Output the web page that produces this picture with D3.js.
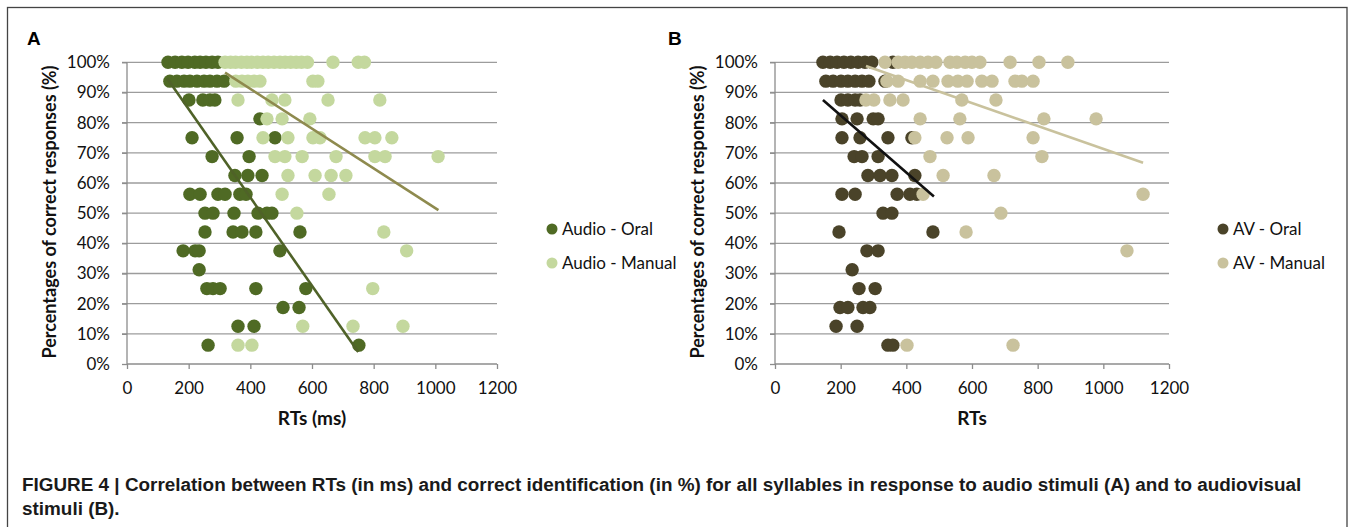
<!DOCTYPE html>
<html>
<head>
<meta charset="utf-8">
<script src="https://cdn.jsdelivr.net/npm/d3@7"></script>
<style>
  body { margin: 0; background: #fff; }
  svg { display: block; }
</style>
</head>
<body>
<svg id="fig" width="1349" height="527"></svg>
<script>
// y levels are sixteenths (100, 93.75, 87.5 ...), x is RT in ms
var audioOral = [
  [133,100],[156,100],[178,100],[198,100],[220,100],[237,100],[256,100],[276,100],[295,100],
  [139,93.75],[162,93.75],[185,93.75],[204,93.75],[227,93.75],[250,93.75],[269,93.75],[292,93.75],[315,93.75],
  [201,87.5],[246,87.5],[269,87.5],[285,87.5],
  [431,81.25],
  [211,75],[357,75],[480,75],
  [276,68.75],[396,68.75],
  [350,62.5],[392,62.5],[438,62.5],
  [204,56.25],[237,56.25],[295,56.25],[318,56.25],[366,56.25],[386,56.25],
  [253,50],[279,50],[347,50],[425,50],[454,50],[470,50],
  [253,43.75],[344,43.75],[373,43.75],[418,43.75],[561,43.75],
  [182,37.5],[221,37.5],[234,37.5],[496,37.5],
  [234,31.25],
  [259,25],[279,25],[302,25],[418,25],[580,25],
  [506,18.75],[558,18.75],
  [360,12.5],[412,12.5],
  [263,6.25],[752,6.25]
];
var audioManual = [
  [318,100],[336,100],[352,100],[371,100],[389,100],[404,100],[423,100],[441,100],[458,100],[477,100],
  [496,100],[513,100],[531,100],[549,100],[566,100],[585,100],[668,100],[750,100],[770,100],
  [353,93.75],[373,93.75],[392,93.75],[412,93.75],[431,93.75],[603,93.75],[619,93.75],
  [360,87.5],[470,87.5],[512,87.5],[652,87.5],[820,87.5],
  [454,81.25],[503,81.25],[593,81.25],
  [441,75],[522,75],[603,75],[626,75],[772,75],[804,75],[859,75],
  [480,68.75],[512,68.75],[568,68.75],[678,68.75],[804,68.75],[837,68.75],[1009,68.75],
  [522,62.5],[610,62.5],[662,62.5],[710,62.5],
  [503,56.25],[655,56.25],
  [551,50],
  [833,43.75],
  [907,37.5],
  [797,25],
  [570,12.5],[733,12.5],[895,12.5],
  [360,6.25],[405,6.25]
];
var avOral = [
  [146,100],[168,100],[189,100],[210,100],[231,100],[253,100],[274,100],[295,100],[359,100],
  [155,93.75],[177,93.75],[201,93.75],[222,93.75],[244,93.75],[265,93.75],[286,93.75],[335,93.75],
  [201,87.5],[222,87.5],[244,87.5],[259,87.5],
  [204,81.25],[250,81.25],[299,81.25],[314,81.25],
  [204,75],[259,75],[344,75],[417,75],
  [241,68.75],[265,68.75],[314,68.75],
  [283,62.5],[320,62.5],[356,62.5],[426,62.5],
  [204,56.25],[244,56.25],[372,56.25],[411,56.25],[432,56.25],
  [329,50],[356,50],
  [195,43.75],[481,43.75],
  [280,37.5],[314,37.5],
  [235,31.25],
  [256,25],[305,25],
  [198,18.75],[222,18.75],[268,18.75],[289,18.75],
  [186,12.5],[250,12.5],
  [344,6.25],[359,6.25]
];
var avManual = [
  [335,100],[375,100],[396,100],[417,100],[442,100],[466,100],[490,100],[533,100],[554,100],[579,100],
  [600,100],[624,100],[716,100],[804,100],[892,100],
  [341,93.75],[375,93.75],[442,93.75],[481,93.75],[527,93.75],[557,93.75],[585,93.75],[630,93.75],
  [661,93.75],[731,93.75],[752,93.75],[786,93.75],
  [277,87.5],[301,87.5],[350,87.5],[390,87.5],[569,87.5],[673,87.5],
  [442,81.25],[563,81.25],[819,81.25],[978,81.25],
  [426,75],[524,75],[588,75],[786,75],
  [472,68.75],[813,68.75],
  [512,62.5],[667,62.5],
  [451,56.25],[1121,56.25],
  [688,50],
  [582,43.75],
  [1072,37.5],
  [402,6.25],[725,6.25]
];
// linear trend lines (end points)
var trendAudioOral = [[130,94.7],[750,4]];
var trendAudioManual = [[318,96.6],[1010,51]];
var trendAvOral = [[146,87.5],[484,55.5]];
var trendAvManual = [[277,98.8],[1121,66.7]];

var xTicks = [0,200,400,600,800,1000,1200];
var yTicks = [0,10,20,30,40,50,60,70,80,90,100];

var svg = d3.select("#fig");
var chartFont = "Lato, 'Open Sans', sans-serif";

// outer frame
svg.append("rect")
  .attr("x", 7.5).attr("y", 7.5)
  .attr("width", 1339.5).attr("height", 540)
  .attr("fill", "none").attr("stroke", "#444").attr("stroke-width", 1.3);

var panels = [
  {label: "A", left: 127, right: 497, xTitle: "RTs (ms)", labelX: 27,
   series: [
     {name: "Audio - Oral", data: audioOral, color: "#4f6a24"},
     {name: "Audio - Manual", data: audioManual, color: "#c4d89e"}
   ],
   trends: [
     {data: trendAudioOral, color: "#4f6228"},
     {data: trendAudioManual, color: "#8e8a4e"}
   ],
   legendX: 552},
  {label: "B", left: 775, right: 1169, xTitle: "RTs", labelX: 668,
   series: [
     {name: "AV - Oral", data: avOral, color: "#4a4329"},
     {name: "AV - Manual", data: avManual, color: "#c9c29d"}
   ],
   trends: [
     {data: trendAvOral, color: "#111"},
     {data: trendAvManual, color: "#c9c29d"}
   ],
   legendX: 1223}
];

var plotTop = 62.3, plotBottom = 364;

panels.forEach(function(p) {
  var x = d3.scaleLinear().domain([0, 1200]).range([p.left, p.right]);
  var y = d3.scaleLinear().domain([0, 100]).range([plotBottom, plotTop]);
  var g = svg.append("g");

  // gridlines
  g.selectAll(".grid").data(yTicks.slice(1)).enter().append("line")
    .attr("x1", p.left - 5).attr("x2", p.right)
    .attr("y1", d => y(d)).attr("y2", d => y(d))
    .attr("stroke", "#9c9c9c").attr("stroke-width", 1.3);

  // y axis
  var yAxis = d3.axisLeft(y).tickValues(yTicks).tickFormat(d => d + "%").tickSize(5).tickPadding(12);
  var ga = g.append("g").attr("transform", "translate(" + p.left + ",0)").call(yAxis);
  // x axis
  var xAxis = d3.axisBottom(x).tickValues(xTicks).tickFormat(d3.format("d")).tickSize(5).tickPadding(13);
  var gx = g.append("g").attr("transform", "translate(0," + plotBottom + ")").call(xAxis);
  [ga, gx].forEach(function(a) {
    a.select(".domain").attr("stroke", "#8c8c8c").attr("stroke-width", 1.3);
    a.selectAll(".tick line").attr("stroke", "#8c8c8c").attr("stroke-width", 1.3);
    a.selectAll(".tick text").attr("font-family", chartFont).attr("font-size", 17).attr("fill", "#111");
  });
  ga.select(".domain").attr("d", "M0," + plotBottom + "V" + plotTop);
  gx.select(".domain").attr("d", "M" + p.left + ",0H" + p.right);

  // points
  p.series.forEach(function(s) {
    g.append("g").selectAll("circle").data(s.data).enter().append("circle")
      .attr("cx", d => x(d[0])).attr("cy", d => y(d[1]))
      .attr("r", 6.7).attr("fill", s.color);
  });

  // trend lines
  var line = d3.line().x(d => x(d[0])).y(d => y(d[1]));
  p.trends.forEach(function(t) {
    g.append("path").datum(t.data).attr("d", line)
      .attr("fill", "none").attr("stroke", t.color).attr("stroke-width", 2.6);
  });

  // axis titles
  g.append("text")
    .attr("x", (p.left + p.right) / 2).attr("y", 425)
    .attr("text-anchor", "middle").attr("font-family", chartFont)
    .attr("font-weight", "bold").attr("font-size", 19).attr("fill", "#111")
    .text(p.xTitle);
  g.append("text")
    .attr("transform", "translate(" + (p.left - 71) + "," + 212 + ") rotate(-90)")
    .attr("text-anchor", "middle").attr("font-family", chartFont)
    .attr("font-weight", "bold").attr("font-size", 18).attr("fill", "#111")
    .text("Percentages of correct responses (%)");

  // panel letter
  g.append("text")
    .attr("x", p.labelX).attr("y", 45)
    .attr("font-family", "'Liberation Sans', Arial, sans-serif")
    .attr("font-weight", "bold").attr("font-size", 19).attr("fill", "#000")
    .text(p.label);

  // legend
  var lg = g.append("g").selectAll("g").data(p.series).enter().append("g")
    .attr("transform", (d, i) => "translate(" + p.legendX + "," + (229 + i * 34) + ")");
  lg.append("circle").attr("r", 5.5).attr("fill", d => d.color);
  lg.append("text").attr("x", 10).attr("y", 6)
    .attr("font-family", chartFont).attr("font-size", 17).attr("fill", "#111")
    .text(d => d.name);
});

// caption
var caption = [
  "FIGURE 4 | Correlation between RTs (in ms) and correct identification (in %) for all syllables in response to audio stimuli (A) and to audiovisual",
  "stimuli (B)."
];
svg.append("g").selectAll("text").data(caption).enter().append("text")
  .attr("x", 22).attr("y", (d, i) => 491 + i * 24)
  .attr("font-family", "'Liberation Sans', Arial, sans-serif")
  .attr("font-weight", "bold").attr("font-size", 18.9).attr("fill", "#1a1a1a")
  .text(d => d);
</script>
</body>
</html>
